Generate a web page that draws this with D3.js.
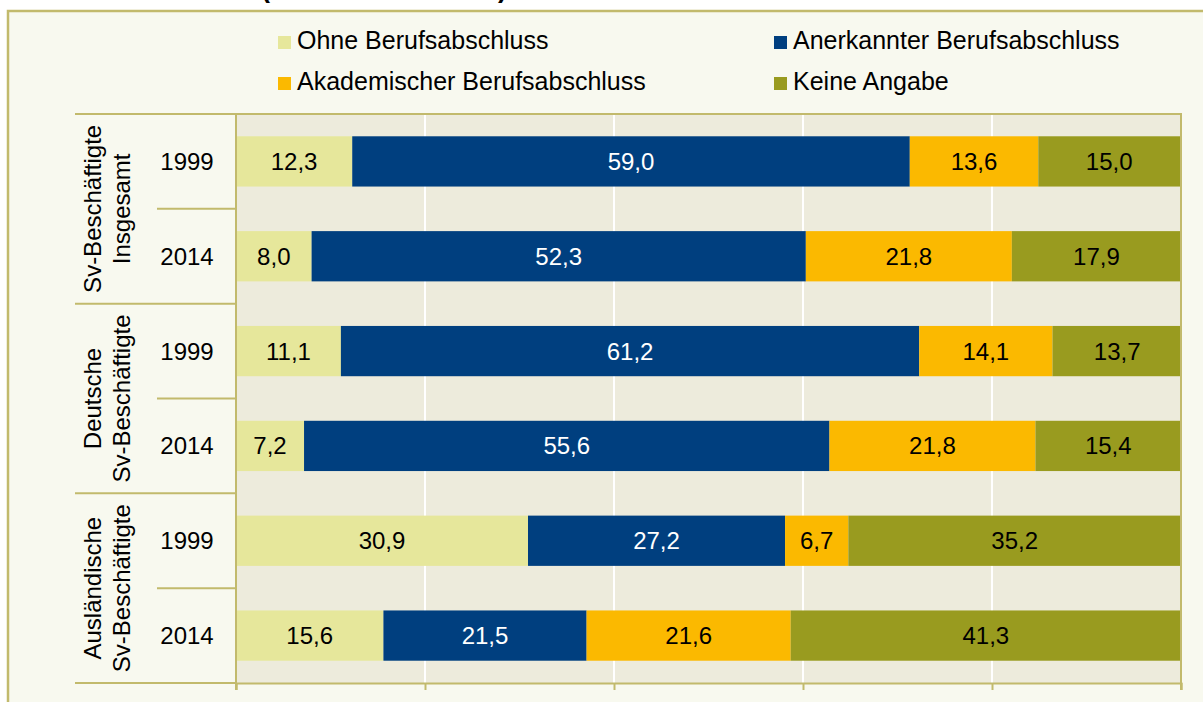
<!DOCTYPE html>
<html>
<head>
<meta charset="utf-8">
<script src="https://cdnjs.cloudflare.com/ajax/libs/d3/7.8.5/d3.min.js"></script>
<style>
  body { margin: 0; background: #fff; }
  svg { display: block; font-family: Arial, "Liberation Sans", sans-serif; }
</style>
</head>
<body>
<div id="chart"></div>
<script>
(function() {

  var series = ["Ohne Berufsabschluss", "Anerkannter Berufsabschluss", "Akademischer Berufsabschluss", "Keine Angabe"];
  var colors = ["#E6E79B", "#003F7F", "#FBB900", "#999B1F"];
  var groups = [["Sv-Beschäftigte", "Insgesamt"], ["Deutsche", "Sv-Beschäftigte"], ["Ausländische", "Sv-Beschäftigte"]];
  var years = ["1999", "2014"];

  // one array per row, in series order
  var insg1999 = [12.3, 59.0, 13.6, 15.0];
  var insg2014 = [8.0, 52.3, 21.8, 17.9];
  var deu1999 = [11.1, 61.2, 14.1, 13.7];
  var deu2014 = [7.2, 55.6, 21.8, 15.4];
  var ausl1999 = [30.9, 27.2, 6.7, 35.2];
  var ausl2014 = [15.6, 21.5, 21.6, 41.3];
  var rowValues = [insg1999, insg2014, deu1999, deu2014, ausl1999, ausl2014];
  var xTicks = [0, 20, 40, 60, 80, 100];

  var width = 1203, height = 702;
  var plot = {left: 236, right: 1181, top: 114, bottom: 683};

  var rows = [];
  groups.forEach((g, gi) => years.forEach((y, yi) => rows.push({key: gi + "-" + y, group: gi, year: y, values: rowValues[gi * 2 + yi]})));

  var x = d3.scaleLinear().domain([0, 100]).range([plot.left, plot.right]);
  var y = d3.scaleBand().domain(rows.map(r => r.key)).range([plot.top, plot.bottom])
      .paddingInner(0.47).paddingOuter(0.235);
  var step = y.step();
  var color = d3.scaleOrdinal().domain(series).range(colors);

  var svg = d3.select("#chart").append("svg")
      .attr("width", width)
      .attr("height", height);

  // frame
  svg.append("rect")
      .attr("x", 8).attr("y", 11)
      .attr("width", width + 20).attr("height", height + 20)
      .attr("fill", "#F8F9EF")
      .attr("stroke", "#C2BA6C").attr("stroke-width", 2.5);

  // title, mostly cut off above the frame
  svg.append("text")
      .attr("x", 261).attr("y", -3)
      .attr("font-size", 27).attr("font-weight", "bold")
      .text("(Anteile in Prozent)");

  // legend: two columns, two rows
  var legend = svg.append("g").selectAll("g")
      .data(series)
      .enter().append("g")
      .attr("transform", (d, i) => "translate(" + (i % 2 === 0 ? 278 : 774) + "," + (i < 2 ? 36 : 77) + ")");
  legend.append("rect").attr("width", 13).attr("height", 13).attr("fill", d => color(d));
  legend.append("text")
      .attr("x", 19).attr("y", 13)
      .attr("font-size", 25)
      .text(d => d);

  // plot background + grid
  svg.append("rect")
      .attr("x", plot.left).attr("y", plot.top)
      .attr("width", plot.right - plot.left).attr("height", plot.bottom - plot.top)
      .attr("fill", "#EDEBDC");

  svg.append("g").selectAll("line")
      .data(xTicks.slice(1, -1))
      .enter().append("line")
      .attr("x1", d => x(d)).attr("x2", d => x(d))
      .attr("y1", plot.top).attr("y2", plot.bottom)
      .attr("stroke", "#fff").attr("stroke-width", 2);

  // stacked bars
  var stack = d3.stack().keys(d3.range(series.length)).value((d, k) => d.values[k]);
  var layers = stack(rows);

  var layer = svg.append("g").selectAll("g")
      .data(layers)
      .enter().append("g")
      .attr("fill", (d, i) => colors[i]);

  layer.selectAll("rect")
      .data(d => d)
      .enter().append("rect")
      .attr("x", d => x(d[0]))
      .attr("y", d => y(d.data.key))
      .attr("width", d => x(d[1]) - x(d[0]))
      .attr("height", y.bandwidth());

  layer.selectAll("text")
      .data((d, i) => d.map(s => ({s: s, i: i})))
      .enter().append("text")
      .attr("x", d => (x(d.s[0]) + x(d.s[1])) / 2)
      .attr("y", d => y(d.s.data.key) + y.bandwidth() / 2 + 8.5)
      .attr("text-anchor", "middle")
      .attr("font-size", 24)
      .attr("fill", d => d.i === 1 ? "#fff" : "#000")
      .text(d => d3.format(".1f")(d.s[1] - d.s[0]).replace(".", ","));

  // axis lines (top, right, left)
  var border = "#C2BA6C";
  svg.append("path")
      .attr("d", `M${plot.left},${plot.top} H${plot.right} V${plot.bottom + 7}`)
      .attr("fill", "none").attr("stroke", border).attr("stroke-width", 2);
  svg.append("line")
      .attr("x1", plot.left).attr("x2", plot.left)
      .attr("y1", plot.top).attr("y2", plot.bottom + 7)
      .attr("stroke", border).attr("stroke-width", 2);

  var xAxis = svg.append("g")
      .attr("transform", "translate(0," + plot.bottom + ")")
      .call(d3.axisBottom(x).tickValues(xTicks).tickSize(7).tickFormat(""));
  xAxis.selectAll("line, path").attr("stroke", border).attr("stroke-width", 2);

  // category table on the left
  var rowLines = d3.range(rows.length + 1).map(i => plot.top + i * step);
  svg.append("g").selectAll("line")
      .data(rowLines)
      .enter().append("line")
      .attr("x1", (d, i) => i % 2 === 0 ? 75 : 157)
      .attr("x2", plot.left)
      .attr("y1", d => d).attr("y2", d => d)
      .attr("stroke", border).attr("stroke-width", 2);

  svg.append("g").selectAll("text")
      .data(rows)
      .enter().append("text")
      .attr("x", 187)
      .attr("y", d => y(d.key) + y.bandwidth() / 2 + 8.5)
      .attr("text-anchor", "middle")
      .attr("font-size", 24)
      .text(d => d.year);

  var groupLabel = svg.append("g").selectAll("text")
      .data(groups)
      .enter().append("text")
      .attr("transform", (d, i) => "translate(101," + (plot.top + (i * 2 + 1) * step) + ") rotate(-90)")
      .attr("text-anchor", "middle")
      .attr("font-size", 24);
  groupLabel.append("tspan").attr("x", 0).attr("y", 0).text(d => d[0]);
  groupLabel.append("tspan").attr("x", 0).attr("y", 29).text(d => d[1]);

})();
</script>
</body>
</html>
